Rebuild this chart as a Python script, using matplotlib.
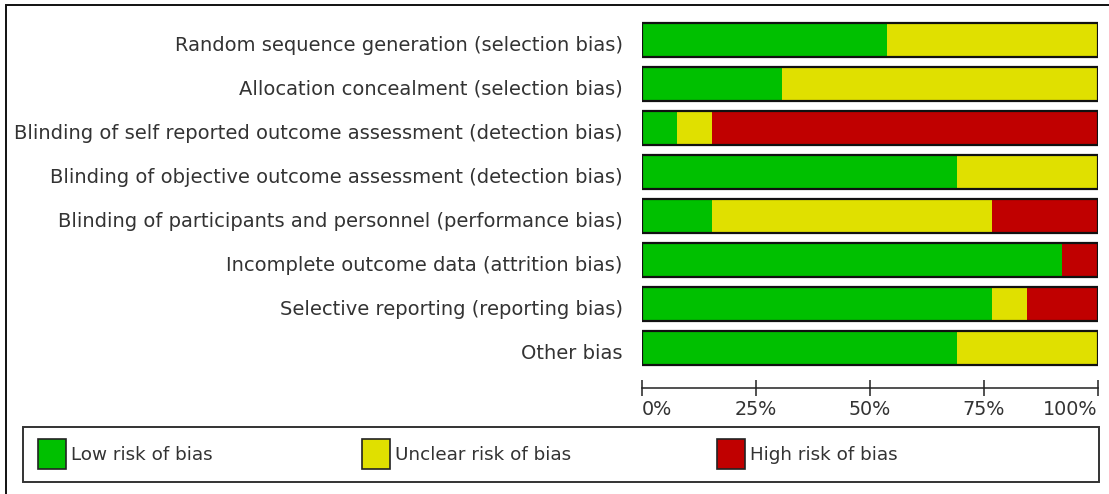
import numpy as np
import matplotlib
matplotlib.use("Agg")
import matplotlib.pyplot as plt
import matplotlib.transforms as mtransforms
from matplotlib.patches import Rectangle

plt.rcParams['font.family'] = ['DejaVu Sans']

# domains, top to bottom
domains = [
    "Random sequence generation (selection bias)",
    "Allocation concealment (selection bias)",
    "Blinding of self reported outcome assessment (detection bias)",
    "Blinding of objective outcome assessment (detection bias)",
    "Blinding of participants and personnel (performance bias)",
    "Incomplete outcome data (attrition bias)",
    "Selective reporting (reporting bias)",
    "Other bias",
]
# percentages
low     = [53.8, 30.8,  7.7, 69.2, 15.4, 92.3, 76.9, 69.2]
unclear = [46.2, 69.2,  7.7, 30.8, 61.5,  0.0,  7.7, 30.8]
high    = [ 0.0,  0.0, 84.6,  0.0, 23.1,  7.7, 15.4,  0.0]

legend_labels = ["Low risk of bias", "Unclear risk of bias", "High risk of bias"]
colors = ["#00c000", "#e0e000", "#c00000"]
tick_vals = [0, 25, 50, 75, 100]
tick_labels = ["0%", "25%", "50%", "75%", "100%"]

W, H = 1109, 494
fig = plt.figure(figsize=(W / 100, H / 100), dpi=100)

# bar panel
ax = fig.add_axes([642 / W, 1 - 370 / H, 455.5 / W, 352 / H])
y = np.arange(len(domains)) + 0.5
h = 0.79
low = np.array(low); unclear = np.array(unclear); high = np.array(high)
ax.barh(y, low, height=h, color=colors[0], lw=0)
ax.barh(y, unclear, left=low, height=h, color=colors[1], lw=0)
ax.barh(y, high, left=low + unclear, height=h, color=colors[2], lw=0)
ax.barh(y, low + unclear + high, height=h, fill=False, edgecolor="#111111", lw=1.6)

ax.set_xlim(0, 100)
ax.set_ylim(len(domains), 0)
ax.set_yticks(y)
ax.set_yticklabels(domains, fontsize=14, color="#333333")
ax.tick_params(axis='y', length=0, pad=14)
shift = mtransforms.ScaledTranslation(0, -3 / 100, fig.dpi_scale_trans)
for t in ax.get_yticklabels():
    t.set_transform(t.get_transform() + shift)

for s in ["top", "right", "left"]:
    ax.spines[s].set_visible(False)
ax.spines["bottom"].set_position(("outward", 13.2))
ax.spines["bottom"].set_color("#222222")
ax.spines["bottom"].set_linewidth(1.1)
ax.set_xticks(tick_vals)
ax.set_xticklabels(tick_labels, fontsize=13.8, color="#333333")
ax.tick_params(axis='x', direction='inout', length=11, width=1.1, color="#222222", pad=3)
xl = ax.get_xticklabels()
xl[0].set_ha("left")
xl[-1].set_ha("right")

# outer frame (cut off at right and bottom)
fig.add_artist(Rectangle((6 / W, -0.1), 1.2, 1.1 - 5 / H, transform=fig.transFigure,
                         fill=False, edgecolor="#111111", lw=1.4))

# legend box
fig.add_artist(Rectangle((23 / W, 1 - 482 / H), (1099 - 23) / W, 55 / H,
                         transform=fig.transFigure, fill=False, edgecolor="#333333", lw=1.4))
patch_x = [38, 362, 717]
for px, lab, c in zip(patch_x, legend_labels, colors):
    fig.add_artist(Rectangle((px / W, 1 - 469 / H), 28 / W, 30 / H, transform=fig.transFigure,
                             facecolor=c, edgecolor="#222222", lw=1.2))
    fig.text((px + 33) / W, 1 - 455 / H, lab, fontsize=13.2, color="#333333",
             ha="left", va="center")

fig.savefig("out.png", dpi=100)
